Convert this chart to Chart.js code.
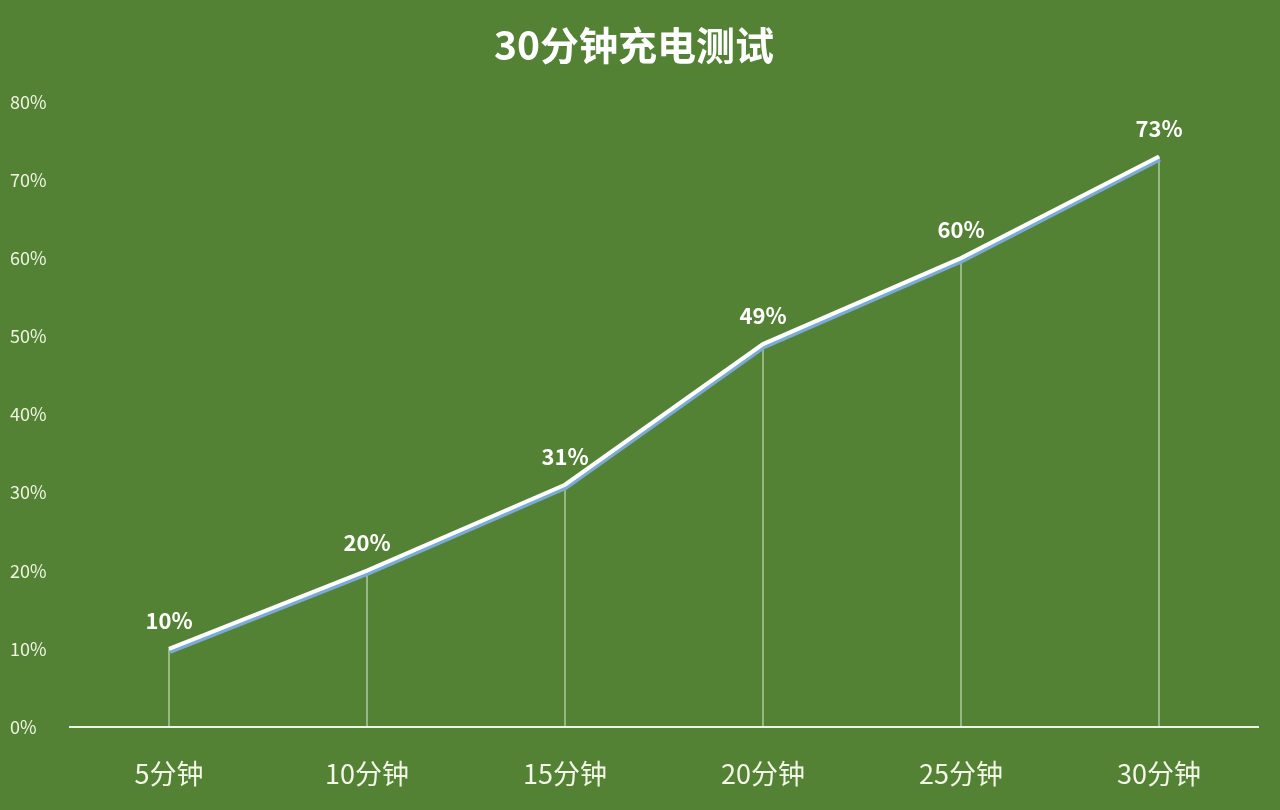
<!DOCTYPE html>
<html>
<head>
<meta charset="utf-8">
<script src="https://cdn.jsdelivr.net/npm/chart.js@4.4.1/dist/chart.umd.min.js"></script>
<style>
  html, body { margin: 0; padding: 0; background: #548235; }
</style>
</head>
<body>
<canvas id="chart" width="1280" height="810"></canvas>
<script>
// 数据
var categories = ['5分钟', '10分钟', '15分钟', '20分钟', '25分钟', '30分钟'];
var charge = [10, 20, 31, 49, 60, 73];
var yTicks = [0, 10, 20, 30, 40, 50, 60, 70, 80];

var fontCJK = '"Noto Sans CJK SC", "Noto Sans", sans-serif';

// 白线下面的蓝色阴影
var shadowPlugin = {
  id: 'lineShadow',
  beforeDatasetDraw: function (chart, args) {
    if (args.index !== 0) return;
    var ctx = chart.ctx;
    ctx.save();
    ctx.shadowColor = '#7aaad6';
    ctx.shadowOffsetX = 1;
    ctx.shadowOffsetY = 3;
    ctx.shadowBlur = 0;
  },
  afterDatasetDraw: function (chart, args) {
    if (args.index !== 0) return;
    chart.ctx.restore();
  }
};

// 数据标签
var labelPlugin = {
  id: 'valueLabels',
  afterDatasetsDraw: function (chart) {
    var meta = chart.getDatasetMeta(0);
    var ctx = chart.ctx;
    ctx.save();
    ctx.fillStyle = '#ffffff';
    ctx.font = 'bold 22px ' + fontCJK;
    ctx.textAlign = 'center';
    ctx.textBaseline = 'middle';
    meta.data.forEach(function (pt, i) {
      ctx.fillText(charge[i] + '%', pt.x, pt.y - 28);
    });
    ctx.restore();
  }
};

var ctx = document.getElementById('chart');
var chartGraph = new Chart(ctx, {
  data: {
    labels: categories,
    datasets: [{
      type: 'line',
      data: charge,
      borderColor: '#ffffff',
      borderWidth: 4,
      pointRadius: 0,
      tension: 0,
      order: 0
    }, {
      // 竖直的细线
      type: 'bar',
      data: charge,
      backgroundColor: 'rgba(235, 245, 225, 0.55)',
      barThickness: 1,
      order: 1
    }]
  },
  options: {
    responsive: false,
    animation: false,
    devicePixelRatio: 1,
    layout: { padding: { left: 10, right: 22, top: 0, bottom: 22 } },
    plugins: {
      legend: { display: false },
      tooltip: { enabled: false },
      title: {
        display: true,
        text: '30分钟充电测试',
        color: '#ffffff',
        font: { family: fontCJK, size: 39, weight: 'bold' },
        padding: { top: 22, bottom: 33 }
      }
    },
    scales: {
      x: {
        offset: true,
        afterFit: function (scale) { scale.height = 61; },
        grid: { display: false, drawTicks: false },
        border: { display: true, color: '#eef4e4', width: 2 },
        ticks: {
          color: '#f4f6e8',
          padding: 31,
          font: { family: fontCJK, size: 27 }
        }
      },
      y: {
        min: 0,
        max: 80,
        afterFit: function (scale) { scale.width = 60; },
        afterBuildTicks: function (scale) {
          scale.ticks = yTicks.map(function (v) { return { value: v }; });
        },
        grid: { display: false, drawTicks: false },
        border: { display: false },
        ticks: {
          crossAlign: 'far',
          padding: 0,
          color: '#eef4e0',
          font: { family: fontCJK, size: 18 },
          callback: function (v) { return v + '%'; }
        }
      }
    }
  },
  plugins: [shadowPlugin, labelPlugin]
});
</script>
</body>
</html>
